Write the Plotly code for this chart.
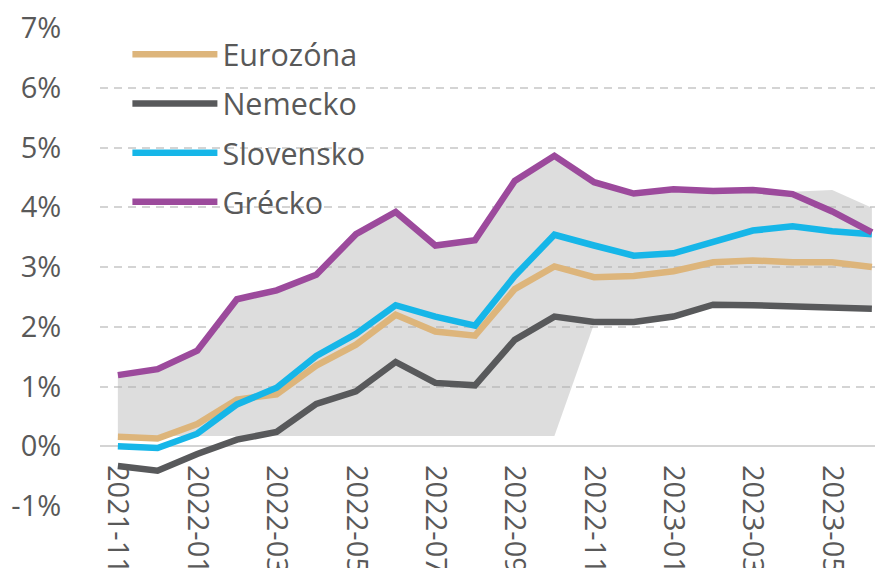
import plotly.graph_objects as go

# ---------------- data ----------------
months = ["2021-11", "2021-12", "2022-01", "2022-02", "2022-03", "2022-04", "2022-05",
          "2022-06", "2022-07", "2022-08", "2022-09", "2022-10", "2022-11", "2022-12",
          "2023-01", "2023-02", "2023-03", "2023-04", "2023-05", "2023-06"]
x_tick_labels = ["2021-11", "2022-01", "2022-03", "2022-05", "2022-07",
                 "2022-09", "2022-11", "2023-01", "2023-03", "2023-05"]

eurozona = [0.16, 0.13, 0.37, 0.78, 0.87, 1.35, 1.70, 2.20, 1.92, 1.85,
            2.63, 3.01, 2.83, 2.85, 2.93, 3.08, 3.11, 3.08, 3.08, 3.00]
nemecko = [-0.33, -0.41, -0.13, 0.11, 0.24, 0.71, 0.92, 1.41, 1.06, 1.02,
           1.78, 2.17, 2.08, 2.08, 2.17, 2.37, 2.36, 2.34, 2.33, 2.30]
slovensko = [0.00, -0.03, 0.21, 0.70, 0.98, 1.51, 1.88, 2.36, 2.17, 2.02,
             2.85, 3.54, 3.36, 3.19, 3.23, 3.42, 3.61, 3.68, 3.60, 3.55]
grecko = [1.19, 1.29, 1.60, 2.46, 2.61, 2.87, 3.55, 3.92, 3.36, 3.45,
          4.44, 4.86, 4.42, 4.23, 4.30, 4.27, 4.29, 4.22, 3.93, 3.58]

# range (min–max) band
band_low = [0.17, 0.17, 0.17, 0.17, 0.17, 0.17, 0.17, 0.17, 0.17, 0.17,
            0.17, 0.17, 2.05, 2.08, 2.17, 2.37, 2.36, 2.34, 2.33, 2.32]
band_high = [1.19, 1.29, 1.60, 2.46, 2.61, 2.87, 3.55, 3.92, 3.36, 3.45,
             4.44, 4.86, 4.42, 4.23, 4.30, 4.27, 4.29, 4.26, 4.29, 3.99]

y_tick_vals = [-1, 0, 1, 2, 3, 4, 5, 6, 7]
y_tick_text = ["-1%", "0%", "1%", "2%", "3%", "4%", "5%", "6%", "7%"]

series = [
    ("Eurozóna", eurozona, "#DDB57B"),
    ("Nemecko", nemecko, "#58595B"),
    ("Slovensko", slovensko, "#16B6E8"),
    ("Grécko", grecko, "#9C4A9C"),
]

FONT = "Open Sans"
TXT = "#595959"

fig = go.Figure()

fig.add_trace(go.Scatter(x=months, y=band_low, mode="lines", line=dict(width=0),
                         showlegend=False, hoverinfo="skip"))
fig.add_trace(go.Scatter(x=months, y=band_high, mode="lines", line=dict(width=0),
                         fill="tonexty", fillcolor="rgba(175,175,175,0.42)",
                         showlegend=False, hoverinfo="skip"))

for name, vals, col in series:
    fig.add_trace(go.Scatter(x=months, y=vals, mode="lines", name=name,
                             legendgroup=name,
                             line=dict(color=col, width=6.5)))

# the page body has an 8px margin: figure sized so that it fills the window
fig.update_layout(
    width=875, height=560,
    margin=dict(l=92, r=0, t=20, b=62),
    paper_bgcolor="white", plot_bgcolor="white",
    font=dict(family=FONT, color=TXT, size=29),
    showlegend=True,
    legend=dict(x=0.035, y=1.0, xanchor="left", yanchor="top",
                bgcolor="rgba(0,0,0,0)", font=dict(size=30.5, color=TXT, family=FONT),
                itemwidth=85, tracegroupgap=6.5, traceorder="grouped"),
    xaxis=dict(type="category", range=[-0.45, 19.28], anchor="free", position=0.125,
               tickmode="array", tickvals=x_tick_labels, ticktext=x_tick_labels,
               tickangle=90, showgrid=False, showline=False, zeroline=False,
               ticks="outside", ticklen=12, tickcolor="rgba(0,0,0,0)",
               ticklabeloverflow="allow",
               tickfont=dict(size=29, color=TXT, family=FONT), automargin=False),
    yaxis=dict(range=[-1, 7], tickmode="array", tickvals=y_tick_vals, ticktext=y_tick_text,
               showgrid=True, gridcolor="#D4D4D4", gridwidth=2, griddash="8px,6px",
               zeroline=True, zerolinecolor="#D4D4D4", zerolinewidth=2,
               showline=False, ticks="outside", ticklen=32, tickcolor="rgba(0,0,0,0)",
               ticklabeloverflow="allow",
               tickfont=dict(size=29, color=TXT, family=FONT), automargin=False),
)

fig.write_html("out.html")
